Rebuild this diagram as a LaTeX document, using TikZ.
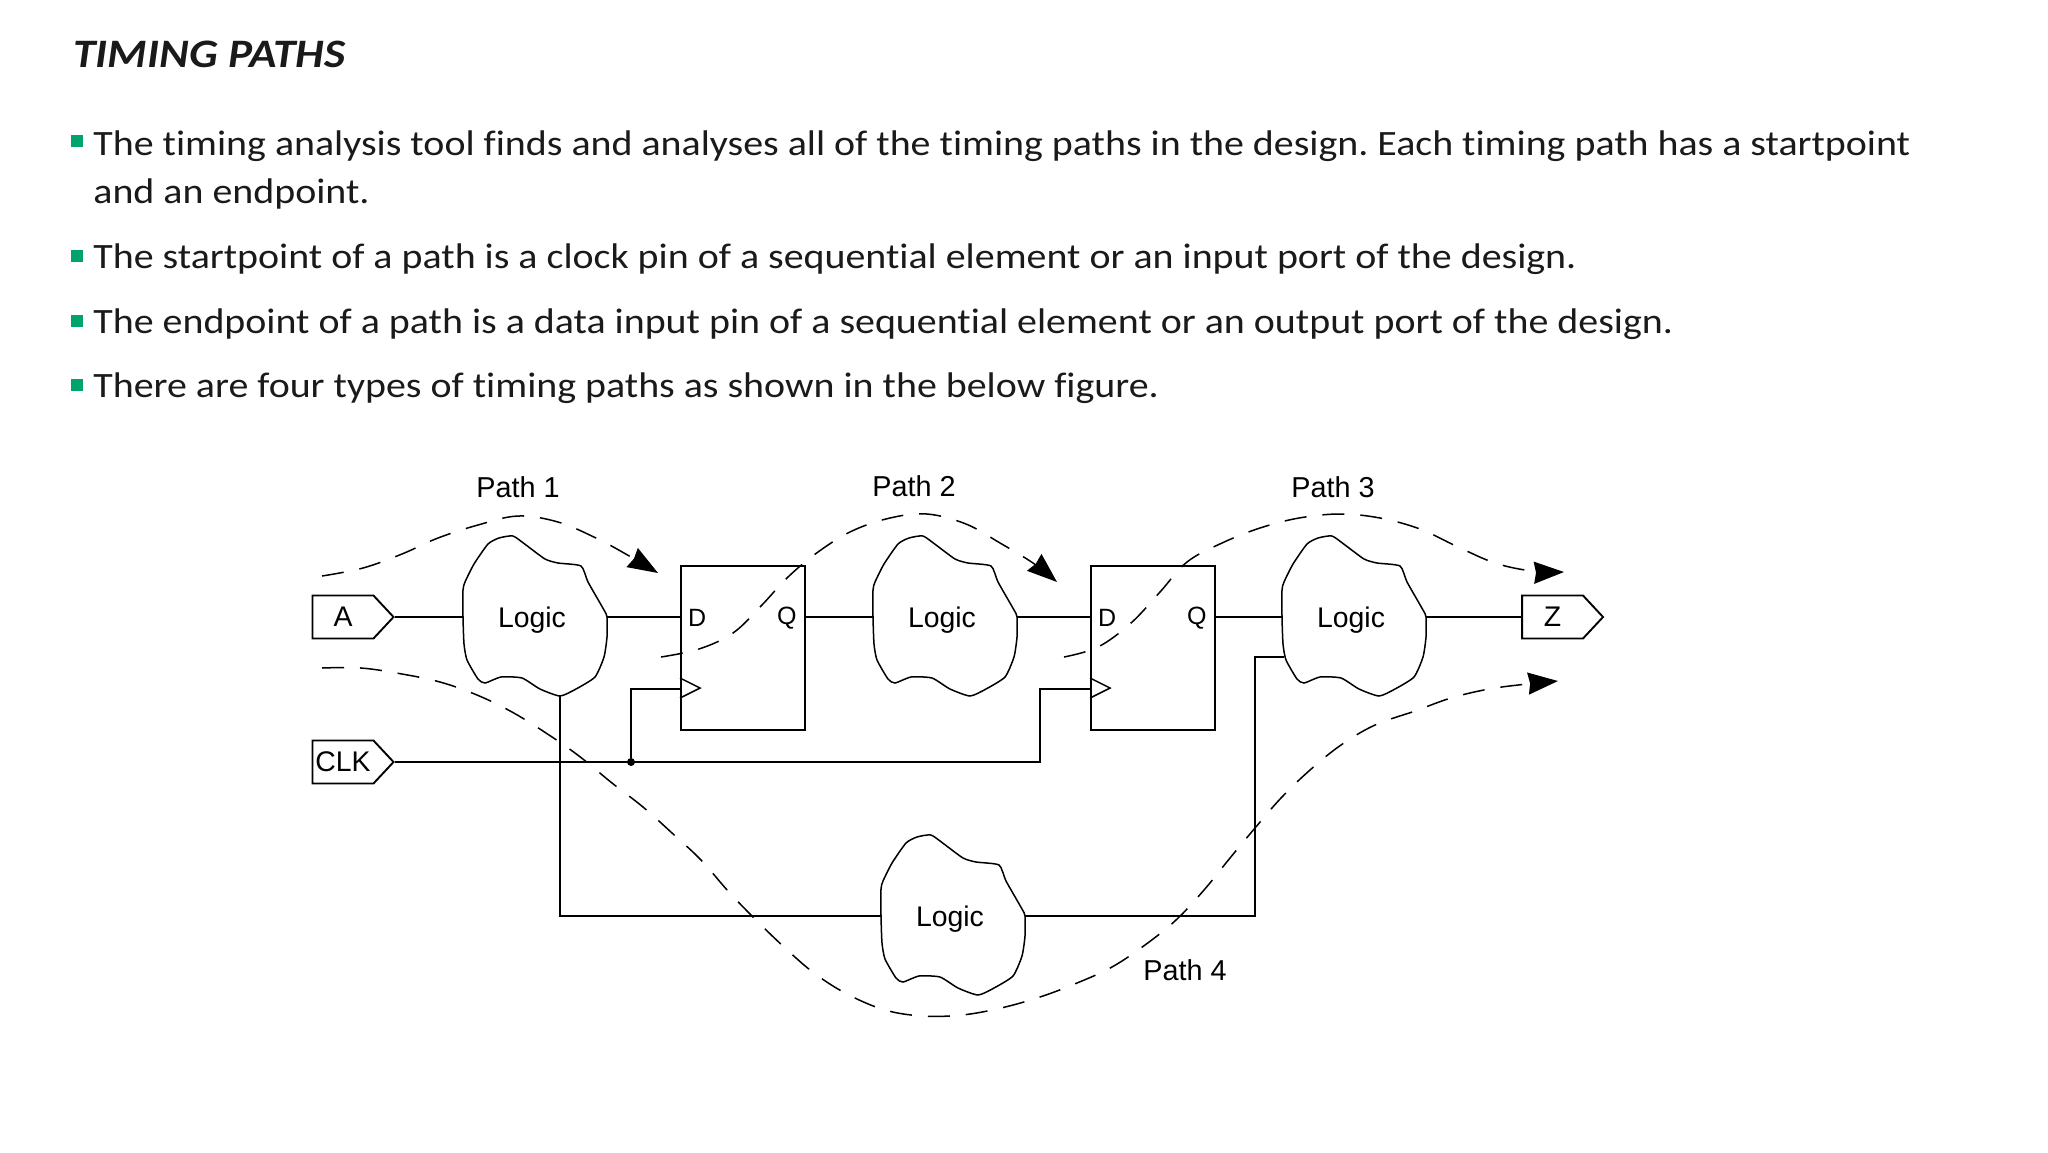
\documentclass[tikz,border=0pt]{standalone}
\usepackage{fontspec}
\setmainfont{Carlito}[Ligatures=CommonOff,FakeStretch=1.12]
\newfontfamily\figfont{Liberation Sans}
\usepackage{xcolor}
\usetikzlibrary{arrows.meta,calc,positioning,shapes.symbols}
\definecolor{slidetext}{HTML}{1A1A1A}
\definecolor{bulletgreen}{HTML}{00A36C}
\frenchspacing
\newcommand{\logicblob}[1]{\draw[blobline,shift={(#1)}] plot[smooth cycle,tension=0.35] coordinates {(-72,-27) (-70,-35) (-61,-53) (-47,-73) (-36,-79) (-22,-81) (-9,-72) (10,-58) (23,-54) (46,-51) (53,-35) (69,-7) (72,0) (72,20) (69,40) (60,60) (41,72) (25,79) (5,72) (-13,61) (-34,60) (-50,66) (-57,62) (-68,43) (-71,27) (-72,0)};}
\tikzset{
    titletext/.style={anchor=base west,text=slidetext,font=\fontsize{20.2}{24}\selectfont\bfseries\itshape,inner sep=0pt},
    bodytext/.style={anchor=base west,text=slidetext,font=\fontsize{17.82}{21}\selectfont,inner sep=0pt},
    bulletmark/.style={fill=bulletgreen,minimum size=6pt,inner sep=0pt},
    wire/.style={line width=0.95pt},
    blobline/.style={line width=0.75pt},
    logicbox/.style={minimum width=72pt,minimum height=80pt,inner sep=0pt,text depth=0pt,font=\figfont\fontsize{14.2}{16}\selectfont,execute at end node=\hspace{3pt}},
    ffbox/.style={draw,line width=0.95pt,minimum width=62pt,minimum height=82pt,inner sep=0pt},
    pintext/.style={inner sep=0pt,font=\figfont\fontsize{12.5}{14}\selectfont},
    porttag/.style={draw,wire,shape=signal,signal to=east,signal pointer angle=94,minimum height=21.5pt,minimum width=40.5pt,inner sep=0pt,font=\figfont\fontsize{14.2}{16}\selectfont},
    pathtext/.style={inner sep=0pt,font=\figfont\fontsize{14.4}{16}\selectfont},
    timingpath/.style={line width=0.75pt,dash pattern=on 11pt off 8pt,-{Stealth[length=15pt,width=11pt,inset=1pt]}},
    dot/.style={circle,fill,inner sep=0pt,minimum size=4pt}
}

\begin{document}
\begin{tikzpicture}[x=0.5pt,y=-0.5pt]
    \useasboundingbox (0,0) rectangle (2048,1152);

    % Slide text
    \node[titletext] (title) at (73,67) {TIMING PATHS};
    \node[bodytext] (lineA) at (93,155) {The timing analysis tool finds and analyses all of the timing paths in the design. Each timing path has a startpoint};
    \node[bodytext] (lineB) at (93,203) {and an endpoint.};
    \node[bodytext] (lineC) at (93,268) {The startpoint of a path is a clock pin of a sequential element or an input port of the design.};
    \node[bodytext] (lineD) at (93,333) {The endpoint of a path is a data input pin of a sequential element or an output port of the design.};
    \node[bodytext] (lineE) at (93,397) {There are four types of timing paths as shown in the below figure.};
    \foreach \y [count=\i] in {141,256,321,385} \node[bulletmark] (bullet\i) at (77,\y) {};

    % Ports
    \node[porttag] (tagA) at (343,617) {A};
    \node[porttag] (tagCLK) at (343,762) {CLK};
    \node[porttag] (tagZ) at (1552.5,617) {Z};

    % Logic clouds
    \node[logicbox] (logicA) at (535,617) {Logic};
    \node[logicbox] (logicB) at (945,617) {Logic};
    \node[logicbox] (logicC) at (1354,617) {Logic};
    \node[logicbox] (logicD) at (953,916) {Logic};
    \foreach \b in {logicA,logicB,logicC,logicD} {\logicblob{\b}}

    % Flip-flops
    \node[ffbox] (ffA) at (743,648) {};
    \node[ffbox] (ffB) at (1153,648) {};
    \foreach \f in {ffA,ffB} {
        \node[pintext] (\f D) at ($(\f.west)+(17,-30)$) {D};
        \node[pintext] (\f Q) at ($(\f.east)+(-19,-30)$) {Q};
        \draw[blobline,shift={(\f.west)}] (0,30) -- (20,40) -- (0,50);
        \coordinate (\f clk) at ($(\f.west)+(0,41)$);
    }

    % Data wires
    \draw[wire] (tagA.east) -- (logicA.west);
    \draw[wire] (logicA.east) -- (logicA.east -| ffA.west);
    \draw[wire] (logicB.west -| ffA.east) -- (logicB.west);
    \draw[wire] (logicB.east) -- (logicB.east -| ffB.west);
    \draw[wire] (logicC.west -| ffB.east) -- (logicC.west);
    \draw[wire] (logicC.east) -- (tagZ.west);

    % Clock wires
    \node[dot] (clkDot) at (631,762) {};
    \coordinate (clkBend) at (1040,762);
    \draw[wire] (tagCLK.east) -- (clkBend) |- (ffBclk);
    \draw[wire] (clkDot) |- (ffAclk);

    % Wires through the lower cloud
    \coordinate (logicTap) at ($(logicA)+(25,79)$);
    \coordinate (logicInC) at ($(logicC)+(-70,40)$);
    \coordinate (riseBend) at (1255,657);
    \draw[wire] (logicTap) |- (logicD.west);
    \draw[wire] (logicD.east) -| (riseBend) -- (logicInC);

    % Timing paths
    \draw[timingpath] plot[smooth,tension=0.6] coordinates {(322,576) (363,568) (402,554) (438,538) (478,525) (518,516) (558,522) (596,538) (624,553) (658,573)};
    \draw[timingpath] plot[smooth,tension=0.6] coordinates {(661,657) (699,649) (733,633) (761,606) (788,577) (818,552) (852,531) (890,518) (927,514) (966,524) (1000,543) (1033,563) (1057,582)};
    \draw[timingpath] plot[smooth,tension=0.6] coordinates {(1064,657) (1098,647) (1131,623) (1160,592) (1187,562) (1222,543) (1260,528) (1299,518) (1340,514) (1380,518) (1420,529) (1456,546) (1495,563) (1532,571) (1564,572)};
    \draw[timingpath] plot[smooth,tension=0.6] coordinates {(322,668) (361,668) (402,674) (440,682) (477,695) (512,712) (546,733) (579,756) (612,783) (643,807) (672,833) (701,860) (728,891) (754,918) (784,947) (814,973) (847,994) (885,1010) (923,1016) (962,1015) (1001,1008) (1040,997) (1077,983) (1112,967) (1145,945) (1176,920) (1204,890) (1230,858) (1255,828) (1281,798) (1310,770) (1341,745) (1375,725) (1415,711) (1451,698) (1489,689) (1527,684) (1558,681)};

    % Path labels
    \node[pathtext] (pathA) at (518,487) {Path 1};
    \node[pathtext] (pathB) at (914,486) {Path 2};
    \node[pathtext] (pathC) at (1333,487) {Path 3};
    \node[pathtext] (pathD) at (1185,970) {Path 4};
\end{tikzpicture}
\end{document}
